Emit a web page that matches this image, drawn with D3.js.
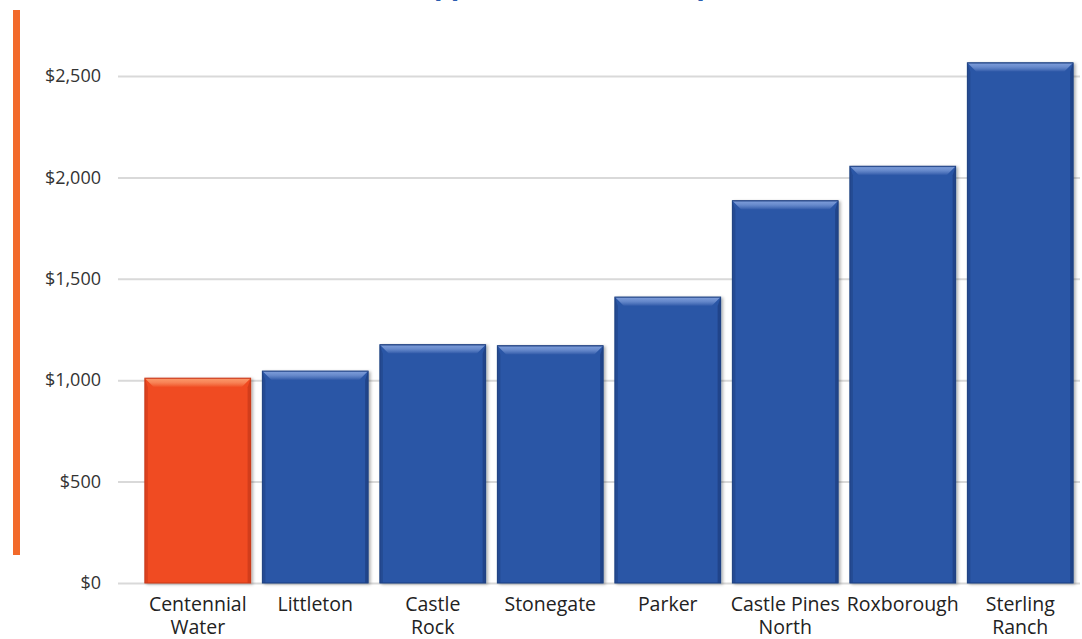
<!DOCTYPE html>
<html>
<head>
<meta charset="utf-8">
<script src="https://cdn.jsdelivr.net/npm/d3@7"></script>
<style>
  body { margin: 0; background: #fff; }
  svg { display: block; }
  .tick text { font-family: "Open Sans", sans-serif; }
</style>
</head>
<body>
<div id="chart"></div>
<script>
// Data
const categories = ["Centennial Water", "Littleton", "Castle Rock", "Stonegate", "Parker", "Castle Pines North", "Roxborough", "Sterling Ranch"];
const labelLines = [["Centennial", "Water"], ["Littleton"], ["Castle", "Rock"], ["Stonegate"], ["Parker"], ["Castle Pines", "North"], ["Roxborough"], ["Sterling", "Ranch"]];
const values = [1010, 1045, 1175, 1170, 1410, 1885, 2055, 2565];
const yTicks = [0, 500, 1000, 1500, 2000, 2500];
const title = "Approximate Bill Comparison";

const width = 1082, height = 639;
const gridLeft = 118, gridRight = 1080;

const svg = d3.select("#chart")
  .append("svg")
  .attr("width", width)
  .attr("height", height);

const defs = svg.append("defs");

// Scales
const x = d3.scaleBand()
  .domain(categories)
  .range([139, 1079])
  .paddingInner(0.1)
  .paddingOuter(0.05);

const y = d3.scaleLinear()
  .domain([0, 2500])
  .range([583, 76]);

// Title (cut off at top of the image)
svg.append("text")
  .attr("x", 416)
  .attr("y", -6)
  .attr("fill", "#2a5db0")
  .attr("font-family", "Open Sans, sans-serif")
  .attr("font-weight", "bold")
  .attr("font-size", 28)
  .attr("letter-spacing", -1.2)
  .text(title);

// Orange accent bar
svg.append("rect")
  .attr("x", 13)
  .attr("y", 10)
  .attr("width", 7)
  .attr("height", 545)
  .attr("fill", "#f26a2b");

// Y axis with gridlines
const yAxis = svg.append("g")
  .attr("class", "axis")
  .attr("transform", `translate(${gridLeft},0)`)
  .call(d3.axisLeft(y)
    .tickValues(yTicks)
    .tickSize(-(gridRight - gridLeft))
    .tickPadding(17)
    .tickFormat(d => "$" + d3.format(",")(d)));

yAxis.select(".domain").remove();
yAxis.selectAll(".tick line")
  .attr("stroke", "#d9d9d9")
  .attr("stroke-width", 2);
yAxis.selectAll(".tick text")
  .attr("font-size", 18)
  .attr("fill", "#333");

// Bar colours
const colors = categories.map((d, i) => i === 0
  ? {base: "#f04c22", light: "#fa9466", dark: "#c8381a"}
  : {base: "#2c56a6", light: "#7898d6", dark: "#1d3f80"});

colors.forEach((c, i) => {
  const g = defs.append("linearGradient")
    .attr("id", "top" + i)
    .attr("x1", 0).attr("y1", 0).attr("x2", 0).attr("y2", 1);
  g.append("stop").attr("offset", "0%").attr("stop-color", c.dark);
  g.append("stop").attr("offset", "15%").attr("stop-color", c.light);
  g.append("stop").attr("offset", "45%").attr("stop-color", c.light).attr("stop-opacity", 0.8);
  g.append("stop").attr("offset", "100%").attr("stop-color", c.base);
});

const shadow = defs.append("filter").attr("id", "shadow")
  .attr("x", "-10%").attr("y", "-10%").attr("width", "130%").attr("height", "120%");
shadow.append("feDropShadow")
  .attr("dx", 2).attr("dy", 1).attr("stdDeviation", 1.5)
  .attr("flood-color", "#000").attr("flood-opacity", 0.3);

// Bars
const bars = svg.selectAll(".bar")
  .data(values)
  .enter().append("g")
  .attr("class", "bar");

const bw = x.bandwidth();
const bevel = 9, side = 3;

bars.append("rect")
  .attr("x", (d, i) => x(categories[i]))
  .attr("y", d => y(d))
  .attr("width", bw)
  .attr("height", d => y(0) - y(d))
  .attr("fill", (d, i) => colors[i].base)
  .attr("stroke", (d, i) => colors[i].dark)
  .attr("stroke-width", 1)
  .attr("filter", "url(#shadow)");

// left and right darker edges
bars.append("polygon")
  .attr("points", (d, i) => {
    const x0 = x(categories[i]), y0 = y(d), y1 = y(0);
    return [[x0, y0], [x0 + side, y0 + bevel], [x0 + side, y1], [x0, y1]].join(" ");
  })
  .attr("fill", (d, i) => colors[i].dark)
  .attr("opacity", 0.5);

bars.append("polygon")
  .attr("points", (d, i) => {
    const x1 = x(categories[i]) + bw, y0 = y(d), y1 = y(0);
    return [[x1, y0], [x1 - side, y0 + bevel], [x1 - side, y1], [x1, y1]].join(" ");
  })
  .attr("fill", (d, i) => colors[i].dark)
  .attr("opacity", 0.75);

// top bevel
bars.append("polygon")
  .attr("points", (d, i) => {
    const x0 = x(categories[i]), y0 = y(d);
    return [[x0, y0], [x0 + bw, y0], [x0 + bw - bevel, y0 + bevel], [x0 + bevel, y0 + bevel]].join(" ");
  })
  .attr("fill", (d, i) => `url(#top${i})`);

// Category labels
const labels = svg.selectAll(".cat")
  .data(labelLines)
  .enter().append("text")
  .attr("class", "cat")
  .attr("x", (d, i) => x(categories[i]) + bw / 2)
  .attr("y", 611)
  .attr("text-anchor", "middle")
  .attr("font-family", "Open Sans, sans-serif")
  .attr("font-size", 19.5)
  .attr("fill", "#222");

labels.selectAll("tspan")
  .data(d => d)
  .enter().append("tspan")
  .attr("x", function() { return d3.select(this.parentNode).attr("x"); })
  .attr("dy", (d, i) => i === 0 ? 0 : 23)
  .text(d => d);
</script>
</body>
</html>
